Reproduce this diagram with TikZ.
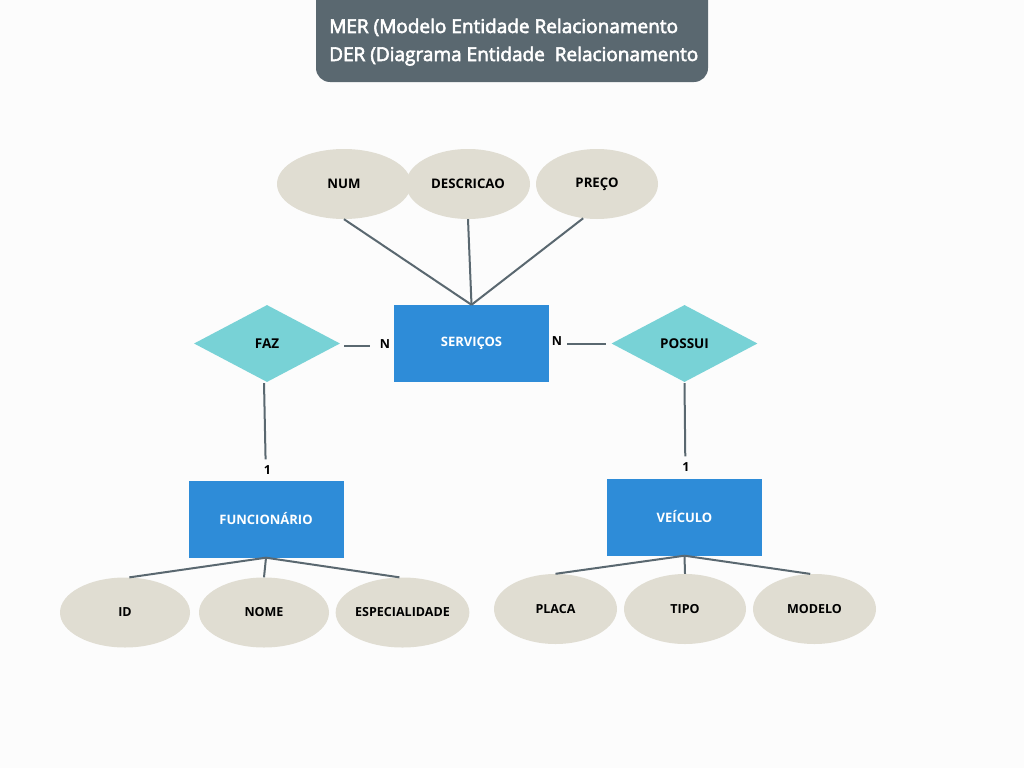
\documentclass[tikz,border=0pt]{standalone}
\usepackage{fontspec}
\setmainfont{Open Sans}
\newfontfamily\titlefont[FakeBold=3]{Open Sans}
\usetikzlibrary{shapes.geometric}
\definecolor{bgc}{RGB}{252,252,252}
\definecolor{titlec}{RGB}{90,104,112}
\definecolor{entc}{RGB}{46,140,216}
\definecolor{relc}{RGB}{120,210,214}
\definecolor{attc}{RGB}{224,221,210}
\definecolor{linec}{RGB}{90,104,112}
\tikzset{
  attr/.style={ellipse, fill=attc, inner sep=0pt, minimum width=#1, minimum height=70pt, font=\bfseries\fontsize{12.5}{14}\selectfont},
  tattr/.style={attr=#1, font=\bfseries\fontsize{13.2}{15}\selectfont},
  ent/.style={rectangle, fill=entc, inner sep=0pt, minimum width=155pt, minimum height=77pt, text=white, font=\bfseries\fontsize{13}{15}\selectfont},
  rel/.style={diamond, fill=relc, inner sep=0pt, minimum width=146pt, minimum height=77pt, font=\bfseries\fontsize{13.5}{15}\selectfont},
  conn/.style={draw=linec, line width=2pt},
  card/.style={inner sep=0pt, font=\bfseries\fontsize{12.5}{14}\selectfont},
  ttl/.style={anchor=base west, inner sep=0pt, text=white, font=\titlefont\fontsize{19}{22}\selectfont}
}
\begin{document}
\begin{tikzpicture}[x=1pt,y=-1pt]
\useasboundingbox (0,0) rectangle (1024,768);
\clip (0,0) rectangle (1024,768);
\fill[bgc] (0,0) rectangle (1024,768);
% title
\fill[titlec, rounded corners=14pt] (316,-30) rectangle (708,82);
\node[ttl] (t1) at (329,33) {MER (Modelo Entidade Relacionamento};
\node[ttl] (t2) at (329,61) {DER (Diagrama Entidade~ Relacionamento};
% top attributes
\node[tattr=134pt] (num) at (344,184) {NUM};
\node[tattr=124pt] (desc) at (468,184) {DESCRICAO};
\node[tattr=122pt] (preco) at (597,184) {PREÇO};
% entities
\node[ent] (serv) at (471.5,343.5) {SERVIÇOS};
\node[ent] (func) at (266,519) {FUNCIONÁRIO};
\node[ent] (veic) at (684.5,517) {VEÍCULO};
% relationships
\node[rel] (faz) at (267,343.5) {FAZ};
\node[rel] (possui) at (684.5,343.5) {POSSUI};
% bottom attributes
\node[attr=130pt] (id) at (125,612.5) {ID};
\node[attr=130pt] (nome) at (264,612.5) {NOME};
\node[attr=131pt] (esp) at (402.5,612.5) {ESPECIALIDADE};
\node[attr=123pt] (placa) at (555.5,609) {PLACA};
\node[attr=122pt] (tipo) at (685,609) {TIPO};
\node[attr=123pt] (modelo) at (814.5,609) {MODELO};
% attribute connectors
\draw[conn] (num.south) -- (serv.north);
\draw[conn] (desc.south) -- (serv.north);
\draw[conn] (preco.-112) -- (serv.north);
\draw[conn] (func.south) -- (id.83);
\draw[conn] (func.south) -- (nome.north);
\draw[conn] (func.south) -- (esp.95);
\draw[conn] (veic.south) -- (placa.north);
\draw[conn] (veic.south) -- (tipo.north);
\draw[conn] (veic.south) -- (modelo.97);
% relationship connectors
\draw[conn, shorten <=4pt, shorten >=24pt] ([yshift=-2.5pt]faz.east) -- ([yshift=-2.5pt]serv.west);
\node[card] (n1) at (385,344) {N};
\draw[conn, shorten <=18pt, shorten >=5pt] (serv.east) -- (possui.west);
\node[card] (n2) at (557,341.5) {N};
\draw[conn, shorten <=1pt, shorten >=21pt] ([xshift=-3pt]faz.south) -- (func.north);
\node[card] (c1) at (267.5,470) {1};
\draw[conn, shorten <=1pt, shorten >=22pt] (possui.south) -- ([xshift=1pt]veic.north);
\node[card] (c2) at (686,467) {1};
\end{tikzpicture}
\end{document}
